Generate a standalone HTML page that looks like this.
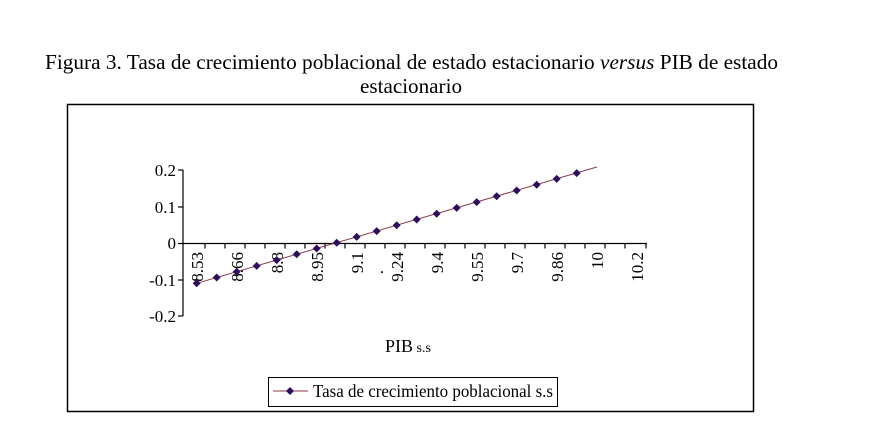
<!DOCTYPE html>
<html><head><meta charset="utf-8"><style>
html,body{margin:0;padding:0;background:#fff;}
svg{display:block;}
text{font-family:"Liberation Serif",serif;fill:#000;}
</style></head><body>
<svg width="894" height="437" viewBox="0 0 894 437" xmlns="http://www.w3.org/2000/svg">
<text x="45" y="69" font-size="21" textLength="733" lengthAdjust="spacingAndGlyphs">Figura 3. Tasa de crecimiento poblacional de estado estacionario <tspan font-style="italic">versus</tspan> PIB de estado</text>
<text x="411" y="93" font-size="21" text-anchor="middle" textLength="102" lengthAdjust="spacingAndGlyphs">estacionario</text>
<rect x="67.5" y="104.5" width="686" height="307" fill="none" stroke="#000" stroke-width="1.5"/>
<g stroke="#000" stroke-width="1.2">
<line x1="183" y1="170" x2="183" y2="316"/>
<line x1="178" y1="170" x2="183" y2="170"/>
<line x1="178" y1="207" x2="183" y2="207"/>
<line x1="178" y1="243.5" x2="183" y2="243.5"/>
<line x1="178" y1="280" x2="183" y2="280"/>
<line x1="178" y1="316" x2="183" y2="316"/>
<line x1="183" y1="243.5" x2="647" y2="243.5"/>
<path d="M205 243.5v5M225 243.5v5M245 243.5v5M265 243.5v5M285 243.5v5M305 243.5v5M325 243.5v5M345 243.5v5M365 243.5v5M385 243.5v5M405 243.5v5M425 243.5v5M445 243.5v5M465 243.5v5M485 243.5v5M505 243.5v5M525 243.5v5M545 243.5v5M565 243.5v5M585 243.5v5M605 243.5v5M625 243.5v5M646 243.5v5"/>
</g>
<g font-size="17" text-anchor="end">
<text x="176" y="176">0.2</text>
<text x="176" y="213">0.1</text>
<text x="176" y="249">0</text>
<text x="176" y="286">-0.1</text>
<text x="176" y="322">-0.2</text>
</g>
<g font-size="17" text-anchor="end">
<text transform="translate(203,252) rotate(-90)">8.53</text>
<text transform="translate(243,252) rotate(-90)">8.66</text>
<text transform="translate(283,252) rotate(-90)">8.8</text>
<text transform="translate(323,252) rotate(-90)">8.95</text>
<text transform="translate(363,252) rotate(-90)">9.1</text>
<text transform="translate(383,270) rotate(-90)">.</text>
<text transform="translate(403,252) rotate(-90)">9.24</text>
<text transform="translate(443,252) rotate(-90)">9.4</text>
<text transform="translate(483,252) rotate(-90)">9.55</text>
<text transform="translate(523,252) rotate(-90)">9.7</text>
<text transform="translate(563,252) rotate(-90)">9.86</text>
<text transform="translate(603,252) rotate(-90)">10</text>
<text transform="translate(643,252) rotate(-90)">10.2</text>
</g>
<line x1="196.7" y1="283.3" x2="597" y2="167" stroke="#8b3a4a" stroke-width="1"/>
<text x="385" y="352" font-size="18">PIB<tspan font-size="14"> s.s</tspan></text>
<rect x="268.5" y="377.5" width="289" height="29" fill="none" stroke="#000" stroke-width="1"/>
<line x1="273" y1="391" x2="308" y2="391" stroke="#8b3a4a" stroke-width="1"/>
<path d="M290 387l4 4l-4 4l-4-4z" fill="#2d0e5c"/>
<text x="313" y="397" font-size="18" textLength="240" lengthAdjust="spacingAndGlyphs">Tasa de crecimiento poblacional s.s</text>
<g fill="#2d0e5c">
<path d="M196.7 279.3l4 4l-4 4l-4-4z"/>
<path d="M216.7 273.5l4 4l-4 4l-4-4z"/>
<path d="M236.7 267.7l4 4l-4 4l-4-4z"/>
<path d="M256.7 261.9l4 4l-4 4l-4-4z"/>
<path d="M276.7 256.1l4 4l-4 4l-4-4z"/>
<path d="M296.7 250.3l4 4l-4 4l-4-4z"/>
<path d="M316.7 244.5l4 4l-4 4l-4-4z"/>
<path d="M336.7 238.7l4 4l-4 4l-4-4z"/>
<path d="M356.7 232.9l4 4l-4 4l-4-4z"/>
<path d="M376.7 227.1l4 4l-4 4l-4-4z"/>
<path d="M396.7 221.3l4 4l-4 4l-4-4z"/>
<path d="M416.7 215.5l4 4l-4 4l-4-4z"/>
<path d="M436.7 209.7l4 4l-4 4l-4-4z"/>
<path d="M456.7 203.9l4 4l-4 4l-4-4z"/>
<path d="M476.7 198.1l4 4l-4 4l-4-4z"/>
<path d="M496.7 192.3l4 4l-4 4l-4-4z"/>
<path d="M516.7 186.5l4 4l-4 4l-4-4z"/>
<path d="M536.7 180.7l4 4l-4 4l-4-4z"/>
<path d="M556.7 174.9l4 4l-4 4l-4-4z"/>
<path d="M576.7 169.1l4 4l-4 4l-4-4z"/>
</g>
</svg>
</body></html>
